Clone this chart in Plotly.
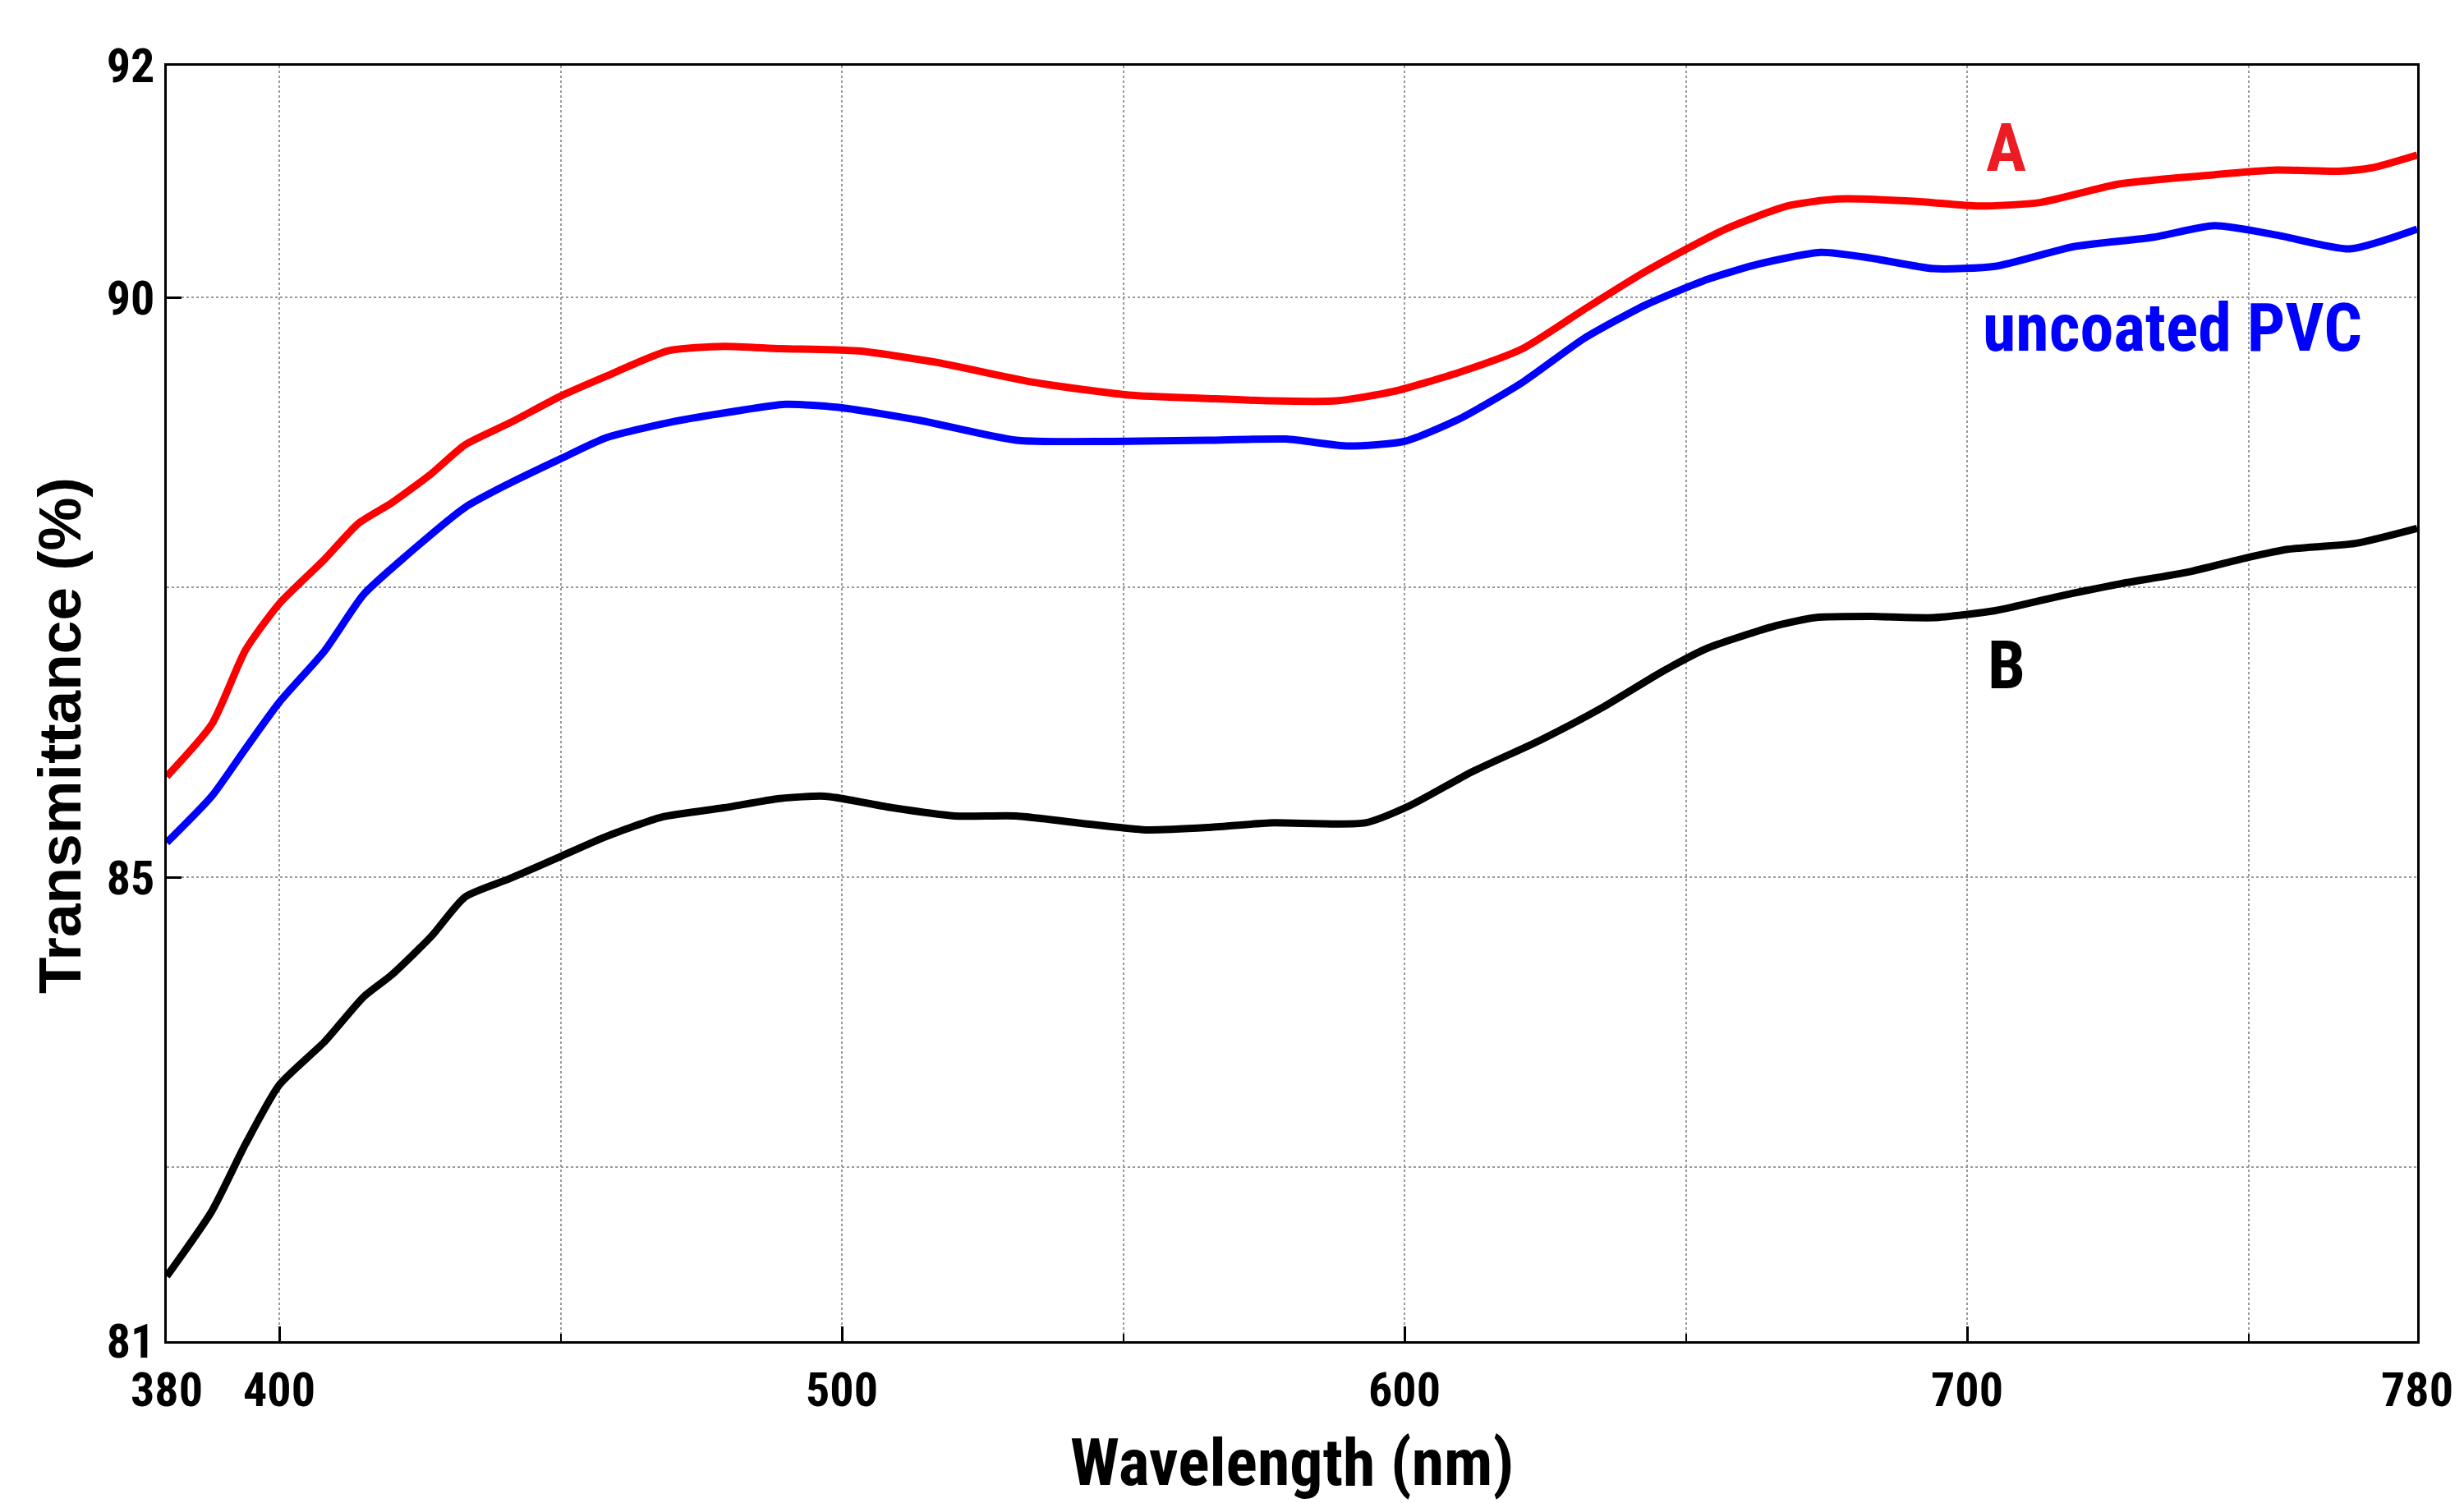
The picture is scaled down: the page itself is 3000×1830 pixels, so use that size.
import plotly.graph_objects as go

# ---- data ----
wl_A = [380, 388, 394, 400, 408, 414, 420, 427, 433, 441, 450, 458, 469, 479, 489, 503, 517, 534, 551, 565,
        576, 588, 598, 610, 621, 632, 643, 657, 668, 677, 691, 702, 713, 727, 744, 755, 766, 772, 780]
T_A = [85.87, 86.32, 86.96, 87.36, 87.74, 88.05, 88.23, 88.48, 88.73, 88.92, 89.15, 89.32, 89.54, 89.58, 89.56,
       89.54, 89.44, 89.27, 89.16, 89.13, 89.11, 89.11, 89.19, 89.36, 89.56, 89.90, 90.23, 90.59, 90.79, 90.85,
       90.83, 90.79, 90.82, 90.98, 91.06, 91.10, 91.09, 91.12, 91.23]

wl_PVC = [380, 388, 394, 400, 408, 415, 422, 433, 441, 450, 458, 469, 481, 490, 500, 514, 531, 548, 565, 579,
          590, 600, 610, 621, 632, 643, 654, 663, 674, 683, 694, 705, 719, 733, 744, 755, 768, 780]
T_PVC = [85.30, 85.70, 86.11, 86.51, 86.95, 87.44, 87.75, 88.19, 88.40, 88.61, 88.79, 88.92, 89.02, 89.08, 89.05,
         88.94, 88.77, 88.76, 88.77, 88.78, 88.72, 88.76, 88.96, 89.27, 89.65, 89.94, 90.16, 90.29, 90.39, 90.34,
         90.25, 90.27, 90.44, 90.52, 90.62, 90.54, 90.42, 90.59]

wl_B = [380, 388, 394, 400, 408, 415, 420, 427, 433, 441, 450, 458, 468, 479, 489, 497, 509, 520, 531, 542,
        554, 565, 576, 593, 601, 612, 624, 635, 646, 654, 666, 673, 683, 694, 705, 716, 727, 739, 750, 757, 769, 780]
T_B = [81.56, 82.12, 82.70, 83.21, 83.58, 83.97, 84.16, 84.49, 84.83, 84.99, 85.18, 85.35, 85.52, 85.60, 85.68,
       85.70, 85.60, 85.53, 85.53, 85.47, 85.41, 85.43, 85.47, 85.47, 85.62, 85.91, 86.18, 86.46, 86.78, 86.98,
       87.17, 87.24, 87.25, 87.24, 87.30, 87.42, 87.53, 87.63, 87.76, 87.83, 87.88, 88.01]

x_ticks = [380, 400, 500, 600, 700, 780]
x_minor = [450, 550, 650, 750]
y_ticks = [81, 85, 90, 92]
y_minor = [82.5, 87.5]

labels = ["A", "uncoated PVC", "B"]
label_x = [707, 736.5, 707]
label_y = [91.29, 89.74, 86.83]
label_colors = ["#ED1C24", "#0000FF", "#000000"]

NARROW = "Roboto Condensed, Liberation Sans Narrow, Arial Narrow, sans-serif"
WIDE = "Liberation Sans, Arial, sans-serif"

fig = go.Figure()
for xs, ys, col in [(wl_A, T_A, "#FF0000"), (wl_PVC, T_PVC, "#0000FF"), (wl_B, T_B, "#000000")]:
    fig.add_trace(go.Scatter(x=xs, y=ys, mode="lines",
                             line=dict(color=col, width=9, shape="spline", smoothing=0.6),
                             showlegend=False))

for t, lx, ly, c in zip(labels, label_x, label_y, label_colors):
    fig.add_annotation(x=lx, y=ly, text=t, showarrow=False, xanchor="center", yanchor="middle",
                       font=dict(family=NARROW, size=82, color=c, weight="bold"))

fig.add_annotation(xref="paper", yref="paper", x=0.5, y=0, yshift=-148, text="Wavelength (nm)",
                   showarrow=False, xanchor="center", yanchor="middle",
                   font=dict(family=NARROW, size=80, color="black", weight="bold"))
fig.add_annotation(xref="paper", yref="paper", x=0, xshift=-130, y=0.4746, text="Transmittance (%)",
                   textangle=-90, showarrow=False, xanchor="center", yanchor="middle",
                   font=dict(family=WIDE, size=73, color="black", weight="bold"))

axis_common = dict(showline=True, linecolor="black", linewidth=3, mirror=True,
                   showgrid=True, gridcolor="#9a9a9a", gridwidth=2, griddash="dot",
                   ticks="inside", tickcolor="black", tickwidth=3, ticklen=18,
                   zeroline=False,
                   tickfont=dict(family=NARROW, size=58, color="black", weight="bold"))

fig.update_xaxes(range=[380, 780], tickmode="array", tickvals=x_ticks, ticktext=[str(v) for v in x_ticks],
                 minor=dict(tickmode="array", tickvals=x_minor, showgrid=True, gridcolor="#9a9a9a",
                            gridwidth=2, griddash="dot", ticks="inside", ticklen=9, tickcolor="black",
                            tickwidth=2),
                 ticklabelstandoff=6, **axis_common)
fig.update_yaxes(range=[81, 92], tickmode="array", tickvals=y_ticks, ticktext=[str(v) for v in y_ticks],
                 minor=dict(tickmode="array", tickvals=y_minor, showgrid=True, gridcolor="#9a9a9a",
                            gridwidth=2, griddash="dot", ticks=""),
                 ticklabelstandoff=0, **axis_common)

fig.update_layout(width=3000, height=1830, paper_bgcolor="white", plot_bgcolor="white",
                  margin=dict(l=195, r=65, t=72, b=205), showlegend=False)

fig.write_html("out.html")
